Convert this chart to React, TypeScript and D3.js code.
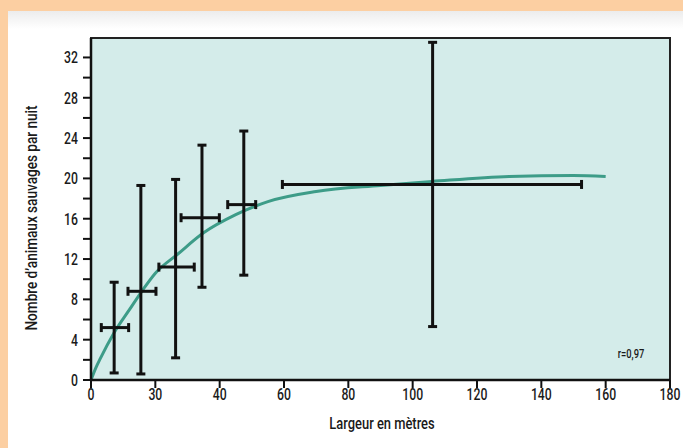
import React from "react";
import * as d3 from "d3";

const xTickValues = [0, 20, 40, 60, 80, 100, 120, 140, 160, 180];
const xTickLabels = ["0", "30", "40", "60", "80", "100", "120", "140", "160", "180"];
const yMajorTicks = [0, 4, 8, 12, 16, 20, 24, 28, 32];
const yMinorTicks = [2, 6, 10, 14, 18, 22, 26, 30];

const xMid = [7.2, 15.5, 26.3, 34.5, 47.5, 106.2];
const xLo = [3.2, 11.5, 21.1, 28.0, 42.5, 59.5];
const xHi = [11.7, 20.2, 32.1, 39.9, 51.2, 152.5];
const yMid = [5.2, 8.8, 11.2, 16.1, 17.4, 19.4];
const yLo = [0.7, 0.6, 2.2, 9.2, 10.4, 5.3];
const yHi = [9.7, 19.3, 19.9, 23.3, 24.7, 33.5];

const curveX = [0, 1.5, 3, 7, 12, 16, 20, 27, 35, 45, 55, 70, 90, 106, 130, 150, 160];
const curveY = [0, 1.2, 2.2, 4.6, 7.0, 8.9, 10.6, 12.5, 14.6, 16.4, 17.7, 18.7, 19.3, 19.7, 20.2, 20.3, 20.2];

const W = 683;
const H = 448;
const FONT = "Roboto, 'Noto Sans', sans-serif";

function CText(props: {
  x: number;
  y: number;
  size: number;
  anchor: string;
  sx?: number;
  rotate?: number;
  children: React.ReactNode;
}) {
  const { x, y, size, anchor, sx = 0.72, rotate = 0, children } = props;
  return (
    <text
      transform={`translate(${x},${y}) rotate(${rotate}) scale(${sx},1)`}
      textAnchor={anchor}
      fontFamily={FONT}
      fontSize={size}
      fontWeight={500}
      fill="#1a1a1a"
    >
      {children}
    </text>
  );
}

export default function App() {
  const x = d3.scaleLinear().domain([0, 180]).range([91, 670]);
  const y = d3.scaleLinear().domain([0, 33.93]).range([380, 38]);
  const line = d3
    .line<number>()
    .x((_, i) => x(curveX[i]))
    .y((d) => y(d))
    .curve(d3.curveMonotoneX);

  const cap = 4.5;
  return (
    <div style={{ position: "fixed", left: 0, top: 0 }}>
      <svg width={W} height={H} style={{ display: "block" }}>
        <defs>
          <linearGradient id="topshade" x1="0" y1="0" x2="0" y2="1">
            <stop offset="0" stopColor="#ececec" />
            <stop offset="1" stopColor="#ffffff" />
          </linearGradient>
        </defs>
        <rect x={0} y={0} width={W} height={H} fill="#fccfa2" />
        <rect x={8} y={11} width={W - 8} height={H - 11} fill="#ffffff" />
        <rect x={8} y={11} width={W - 8} height={18} fill="url(#topshade)" />
        <rect
          x={x(0)}
          y={y(33.93)}
          width={x(180) - x(0)}
          height={y(0) - y(33.93)}
          fill="#d4ecea"
        />
        {/* curve */}
        <path d={line(curveY) || ""} fill="none" stroke="#3d9c88" strokeWidth={3} />
        {/* error bars */}
        {xMid.map((xm, i) => (
          <g key={i} stroke="#111" strokeWidth={3} fill="none">
            <line x1={x(xm)} x2={x(xm)} y1={y(yLo[i])} y2={y(yHi[i])} />
            <line x1={x(xm) - cap} x2={x(xm) + cap} y1={y(yLo[i])} y2={y(yLo[i])} />
            <line x1={x(xm) - cap} x2={x(xm) + cap} y1={y(yHi[i])} y2={y(yHi[i])} />
            <line x1={x(xLo[i])} x2={x(xHi[i])} y1={y(yMid[i])} y2={y(yMid[i])} />
            <line x1={x(xLo[i])} x2={x(xLo[i])} y1={y(yMid[i]) - cap} y2={y(yMid[i]) + cap} />
            <line x1={x(xHi[i])} x2={x(xHi[i])} y1={y(yMid[i]) - cap} y2={y(yMid[i]) + cap} />
          </g>
        ))}
        {/* frame */}
        <rect
          x={x(0)}
          y={y(33.93)}
          width={x(180) - x(0)}
          height={y(0) - y(33.93)}
          fill="none"
          stroke="#222"
          strokeWidth={2}
        />
        <line x1={x(0)} x2={x(180)} y1={y(0)} y2={y(0)} stroke="#111" strokeWidth={2.5} />
        <line x1={x(0)} x2={x(0)} y1={y(0)} y2={y(33.93)} stroke="#111" strokeWidth={2.5} />
        {/* y ticks */}
        {yMajorTicks.concat(yMinorTicks).map((t) => (
          <line key={"yt" + t} x1={x(0) - 8} x2={x(0)} y1={y(t)} y2={y(t)} stroke="#111" strokeWidth={2} />
        ))}
        {yMajorTicks.map((t) => (
          <CText key={"yl" + t} x={x(0) - 13} y={y(t) + 6} size={17} anchor="end">
            {t}
          </CText>
        ))}
        {/* x ticks */}
        {xTickValues.map((t, i) => (
          <g key={"xt" + t}>
            <line x1={x(t)} x2={x(t)} y1={y(0)} y2={y(0) + 8} stroke="#111" strokeWidth={2} />
            <CText x={x(t)} y={y(0) + 20} size={17} anchor="middle">
              {xTickLabels[i]}
            </CText>
          </g>
        ))}
        <CText x={382} y={429} size={17} anchor="middle" sx={0.76}>
          Largeur en mètres
        </CText>
        <CText x={37} y={218} size={17} anchor="middle" sx={0.8} rotate={-90}>
          Nombre d’animaux sauvages par nuit
        </CText>
        <CText x={631} y={358} size={13} anchor="middle" sx={0.72}>
          r=0,97
        </CText>
      </svg>
    </div>
  );
}
